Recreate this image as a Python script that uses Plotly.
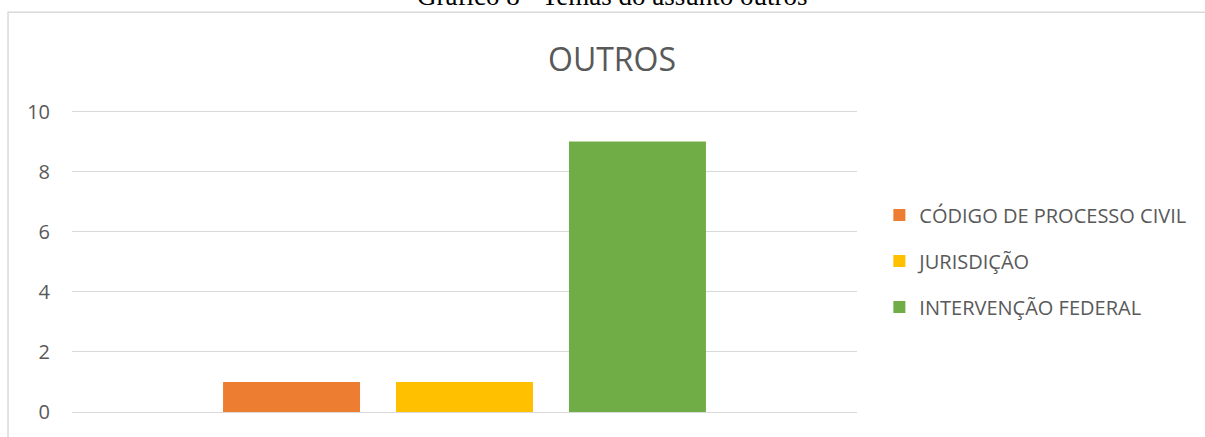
import plotly.graph_objects as go

# data
series_names = ["CÓDIGO DE PROCESSO CIVIL", "JURISDIÇÃO", "INTERVENÇÃO FEDERAL"]
series_values = [1, 1, 9]
series_colors = ["#ED7D31", "#FFC000", "#70AD47"]
category = ["Temas"]
y_ticks = [0, 2, 4, 6, 8, 10]

fig = go.Figure()
for i, (name, val, col) in enumerate(zip(series_names, series_values, series_colors)):
    fig.add_trace(
        go.Bar(
            x=category,
            y=[val],
            name=name,
            marker_color=col,
            marker_line_width=0,
            legendgroup=f"g{i}",
        )
    )

fig.update_layout(
    width=1205,
    height=437,
    margin=dict(l=72, r=348, t=110, b=21),
    paper_bgcolor="white",
    plot_bgcolor="white",
    barmode="group",
    bargap=0.339,
    bargroupgap=0.208,
    font=dict(family="Open Sans, sans-serif", color="#595959"),
    showlegend=True,
    legend=dict(
        x=1.0285,
        y=0.5,
        xanchor="left",
        yanchor="middle",
        tracegroupgap=17,
        font=dict(size=20, color="#595959"),
        bgcolor="rgba(0,0,0,0)",
    ),
    yaxis=dict(
        # a little headroom so plotly keeps the gridline at 10
        range=[0, 10.05],
        tickvals=y_ticks,
        showgrid=True,
        gridcolor="#d9d9d9",
        gridwidth=1,
        zeroline=True,
        zerolinecolor="#d9d9d9",
        zerolinewidth=1,
        showline=False,
        tickfont=dict(size=20, color="#595959"),
        ticklabelstandoff=21,
    ),
    xaxis=dict(showticklabels=False, showgrid=False, zeroline=False, showline=False),
)

# outer chart frame (Excel style border)
fig.add_shape(
    type="rect", xref="paper", yref="paper",
    x0=-0.0815, x1=1.6, y0=-0.3, y1=1.3235,
    line=dict(color="#d9d9d9", width=1.5), fillcolor="rgba(0,0,0,0)", layer="below",
)

# chart title inside the frame
fig.add_annotation(
    text="OUTROS", xref="paper", yref="paper", x=0.688, y=1.17,
    showarrow=False, font=dict(size=32, color="#595959"),
    xanchor="center", yanchor="middle",
)
# document caption, cut off at the top of the page
fig.add_annotation(
    text="Gráfico 8 - Temas do assunto outros", xref="paper", yref="paper",
    x=0.688, y=1.32, showarrow=False,
    font=dict(family="Liberation Serif, Times New Roman, serif", size=27, color="black"),
    xanchor="center", yanchor="bottom",
)

# drop the browser's default 8px body margin so the figure sits at the page corner
fig.write_html(
    "out.html",
    config={"displayModeBar": False},
    post_script="document.body.style.margin='0';",
)
